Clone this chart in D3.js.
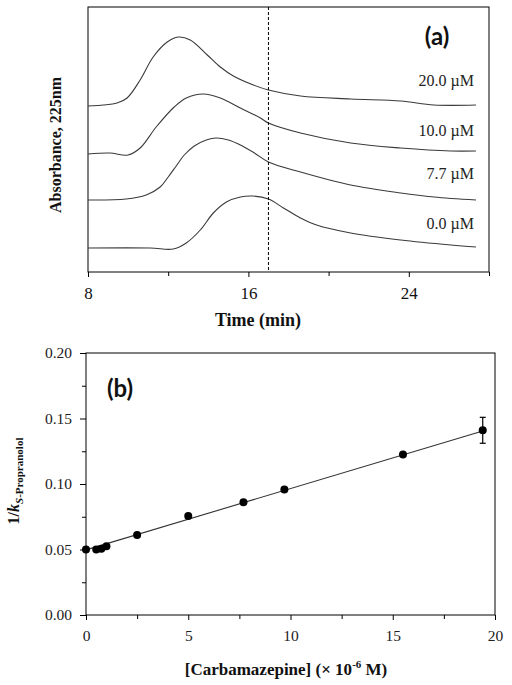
<!DOCTYPE html>
<html>
<head>
<meta charset="utf-8">
<script src="https://cdn.jsdelivr.net/npm/d3@7/dist/d3.min.js"></script>
<style>
  html, body { margin: 0; padding: 0; background: #fff; }
  svg { display: block; }
  svg text { font-family: "Liberation Serif", "Times New Roman", "DejaVu Serif", serif; }
  svg text.sans { font-family: "Lato", "Open Sans", sans-serif; }
</style>
</head>
<body>
<div id="chart"></div>
<script>
// ---------- Panel (a): chromatograms (relative absorbance, stacked traces) ----------
const concLabels = ["20.0 \u00b5M", "10.0 \u00b5M", "7.7 \u00b5M", "0.0 \u00b5M"];

const t20  = [8, 9.45, 9.95, 10.6, 11.25, 11.95, 12.5, 13.1, 13.95, 14.6, 15.25, 16.25, 17, 18.6, 21.1, 23.6, 25.25, 27.35];
const a20  = [166, 169, 174, 192, 215, 230, 235, 232, 217, 205, 196, 187, 182, 176, 173, 171, 167, 167];

const t10  = [8, 9.1, 10, 10.6, 11.4, 12.3, 12.9, 13.75, 14.6, 15.6, 16.6, 17, 18.6, 21.1, 23.6, 26.1, 27.35];
const a10  = [118, 119, 117, 124, 145, 165, 174, 178, 174, 164, 154, 149, 139, 129, 124, 121, 121];

const t77  = [8, 9.9, 10.9, 11.6, 12.0, 12.4, 12.8, 13.3, 13.9, 14.4, 15.0, 15.6, 16.3, 17, 18.6, 21.1, 23.6, 25.25, 27.35];
const a77  = [72, 73, 77, 85, 95, 106, 117, 126, 132, 134, 132, 127, 119, 110, 100, 87, 79, 75, 72];

const t00  = [8, 11.1, 12.25, 12.9, 13.6, 14.25, 14.9, 15.6, 16.2, 17, 17.75, 18.6, 19.4, 21.1, 23.6, 26.1, 27.35];
const a00  = [24, 24, 23, 29, 42, 59, 70, 75, 76, 73, 64, 54, 47, 39, 32, 27, 25];

const labelLevels = [186, 136, 93, 43];   // label baseline levels (same units as traces)
const dashedTime = 17.0;
const timeTicks = [8, 16, 24];
const timeMinor = [12, 20, 28];

// ---------- Panel (b): 1/k vs [Carbamazepine] ----------
const conc    = [0, 0.5, 0.75, 1.0, 2.5, 5.0, 7.7, 9.7, 15.5, 19.4];
const invK    = [0.0500, 0.0500, 0.0505, 0.0525, 0.0610, 0.0755, 0.0860, 0.0958, 0.1225, 0.1410];
const invKErr = [0, 0, 0, 0, 0, 0, 0, 0, 0, 0.0099];
const fitX    = [0, 19.4];
const fitY    = [0.0497, 0.1405];
const concTicks  = [0, 5, 10, 15, 20];
const concMinor  = [2.5, 7.5, 12.5, 17.5];
const invKTicks  = [0.00, 0.05, 0.10, 0.15, 0.20];
const invKMinor  = [0.025, 0.075, 0.125, 0.175];

// ---------- drawing ----------
const W = 512, H = 685;
const svg = d3.select("#chart").append("svg")
  .attr("width", W).attr("height", H);

// ===== Panel (a) =====
const A = { l: 88, r: 489, t: 7, b: 272 };
const xA = d3.scaleLinear().domain([8, 28]).range([A.l, A.r]);
const yA = d3.scaleLinear().domain([0, 265]).range([A.b, A.t]);

const gA = svg.append("g");
gA.append("rect").attr("x", A.l).attr("y", A.t)
  .attr("width", A.r - A.l).attr("height", A.b - A.t)
  .attr("fill", "none").attr("stroke", "#000").attr("stroke-width", 1);

const axA = gA.append("g").attr("transform", `translate(0,${A.b})`)
  .call(d3.axisBottom(xA).tickValues(timeTicks).tickSize(5).tickPadding(10).tickFormat(d3.format("d")));
axA.select(".domain").remove();
axA.selectAll("text").style("font-size", "17px").attr("fill", "#111");
const axAm = gA.append("g").attr("transform", `translate(0,${A.b})`)
  .call(d3.axisBottom(xA).tickValues(timeMinor).tickSize(4).tickFormat(""));
axAm.select(".domain").remove();

const traces = [[t20, a20], [t10, a10], [t77, a77], [t00, a00]];
const lineA = d3.line().x(d => xA(d[0])).y(d => yA(d[1])).curve(d3.curveCatmullRom.alpha(0.5));
traces.forEach(([t, a]) => {
  gA.append("path").datum(t.map((v, i) => [v, a[i]]))
    .attr("d", lineA).attr("fill", "none")
    .attr("stroke", "#3a3a3a").attr("stroke-width", 1.1);
});

gA.append("line").attr("x1", xA(dashedTime)).attr("x2", xA(dashedTime))
  .attr("y1", A.t).attr("y2", A.b)
  .attr("stroke", "#000").attr("stroke-width", 1).attr("stroke-dasharray", "3,2");

concLabels.forEach((lab, i) => {
  gA.append("text").attr("x", 474).attr("y", yA(labelLevels[i]))
    .attr("text-anchor", "end").style("font-size", "16px").attr("fill", "#222")
    .text(lab);
});

gA.append("text").attr("class", "sans").attr("x", 437).attr("y", 45).attr("text-anchor", "middle")
  .style("font-weight", "bold").style("font-size", "24px").attr("fill", "#111").text("(a)");

gA.append("text").attr("x", 258).attr("y", 326).attr("text-anchor", "middle")
  .style("font-weight", "bold").style("font-size", "18px").attr("fill", "#111").text("Time (min)");
gA.append("text").attr("transform", "translate(61,145) rotate(-90)")
  .attr("text-anchor", "middle").style("font-weight", "bold").style("font-size", "16px")
  .attr("fill", "#111").text("Absorbance, 225nm");

// ===== Panel (b) =====
const B = { l: 86, r: 495, t: 353, b: 615 };
const xB = d3.scaleLinear().domain([0, 20]).range([B.l, B.r]);
const yB = d3.scaleLinear().domain([0, 0.20]).range([B.b, B.t]);
const gB = svg.append("g");

gB.append("rect").attr("x", B.l).attr("y", B.t)
  .attr("width", B.r - B.l).attr("height", B.b - B.t)
  .attr("fill", "none").attr("stroke", "#000").attr("stroke-width", 1);

const axBx = gB.append("g").attr("transform", `translate(0,${B.b})`)
  .call(d3.axisBottom(xB).tickValues(concTicks).tickSize(5).tickPadding(10).tickFormat(d3.format("d")));
axBx.select(".domain").remove();
const axBxm = gB.append("g").attr("transform", `translate(0,${B.b})`)
  .call(d3.axisBottom(xB).tickValues(concMinor).tickSize(4).tickFormat(""));
axBxm.select(".domain").remove();

const axBy = gB.append("g").attr("transform", `translate(${B.l},0)`)
  .call(d3.axisLeft(yB).tickValues(invKTicks).tickSize(6).tickPadding(8).tickFormat(d3.format(".2f")));
axBy.select(".domain").remove();
const axBym = gB.append("g").attr("transform", `translate(${B.l},0)`)
  .call(d3.axisLeft(yB).tickValues(invKMinor).tickSize(4).tickFormat(""));
axBym.select(".domain").remove();

[axBx, axBy].forEach(ax => ax.selectAll("text").style("font-size", "15.5px").attr("fill", "#222"));

gB.append("line").attr("x1", xB(fitX[0])).attr("y1", yB(fitY[0]))
  .attr("x2", xB(fitX[1])).attr("y2", yB(fitY[1]))
  .attr("stroke", "#333").attr("stroke-width", 1.1);

const pts = conc.map((c, i) => ({ c, v: invK[i], e: invKErr[i] }));
pts.filter(d => d.e > 0).forEach(d => {
  const x = xB(d.c);
  gB.append("line").attr("x1", x).attr("x2", x).attr("y1", yB(d.v - d.e)).attr("y2", yB(d.v + d.e))
    .attr("stroke", "#000").attr("stroke-width", 1.2);
  [d.v - d.e, d.v + d.e].forEach(v => {
    gB.append("line").attr("x1", x - 3).attr("x2", x + 3).attr("y1", yB(v)).attr("y2", yB(v))
      .attr("stroke", "#000").attr("stroke-width", 1.2);
  });
});

gB.selectAll("circle.pt").data(pts).enter().append("circle")
  .attr("class", "pt").attr("cx", d => xB(d.c)).attr("cy", d => yB(d.v))
  .attr("r", 4).attr("fill", "#000");

gB.append("text").attr("class", "sans").attr("x", 120).attr("y", 397).attr("text-anchor", "middle")
  .style("font-weight", "bold").style("font-size", "24px").attr("fill", "#111").text("(b)");

const xt = gB.append("text").attr("x", 286).attr("y", 675).attr("text-anchor", "middle")
  .style("font-weight", "bold").style("font-size", "17px").attr("fill", "#111");
xt.append("tspan").text("[Carbamazepine] (\u00d7 10");
xt.append("tspan").attr("dy", -7).style("font-size", "11px").text("-6");
xt.append("tspan").attr("dy", 7).text(" M)");

const yt = gB.append("text").attr("transform", "translate(19,481) rotate(-90)")
  .attr("text-anchor", "middle").style("font-weight", "bold").attr("fill", "#111");
yt.append("tspan").style("font-size", "16px").text("1/");
yt.append("tspan").style("font-size", "16px").style("font-style", "italic").text("k");
yt.append("tspan").attr("dy", 4).style("font-size", "11px").style("font-style", "italic").text("S");
yt.append("tspan").style("font-size", "11px").text("-Propranolol");
</script>
</body>
</html>
